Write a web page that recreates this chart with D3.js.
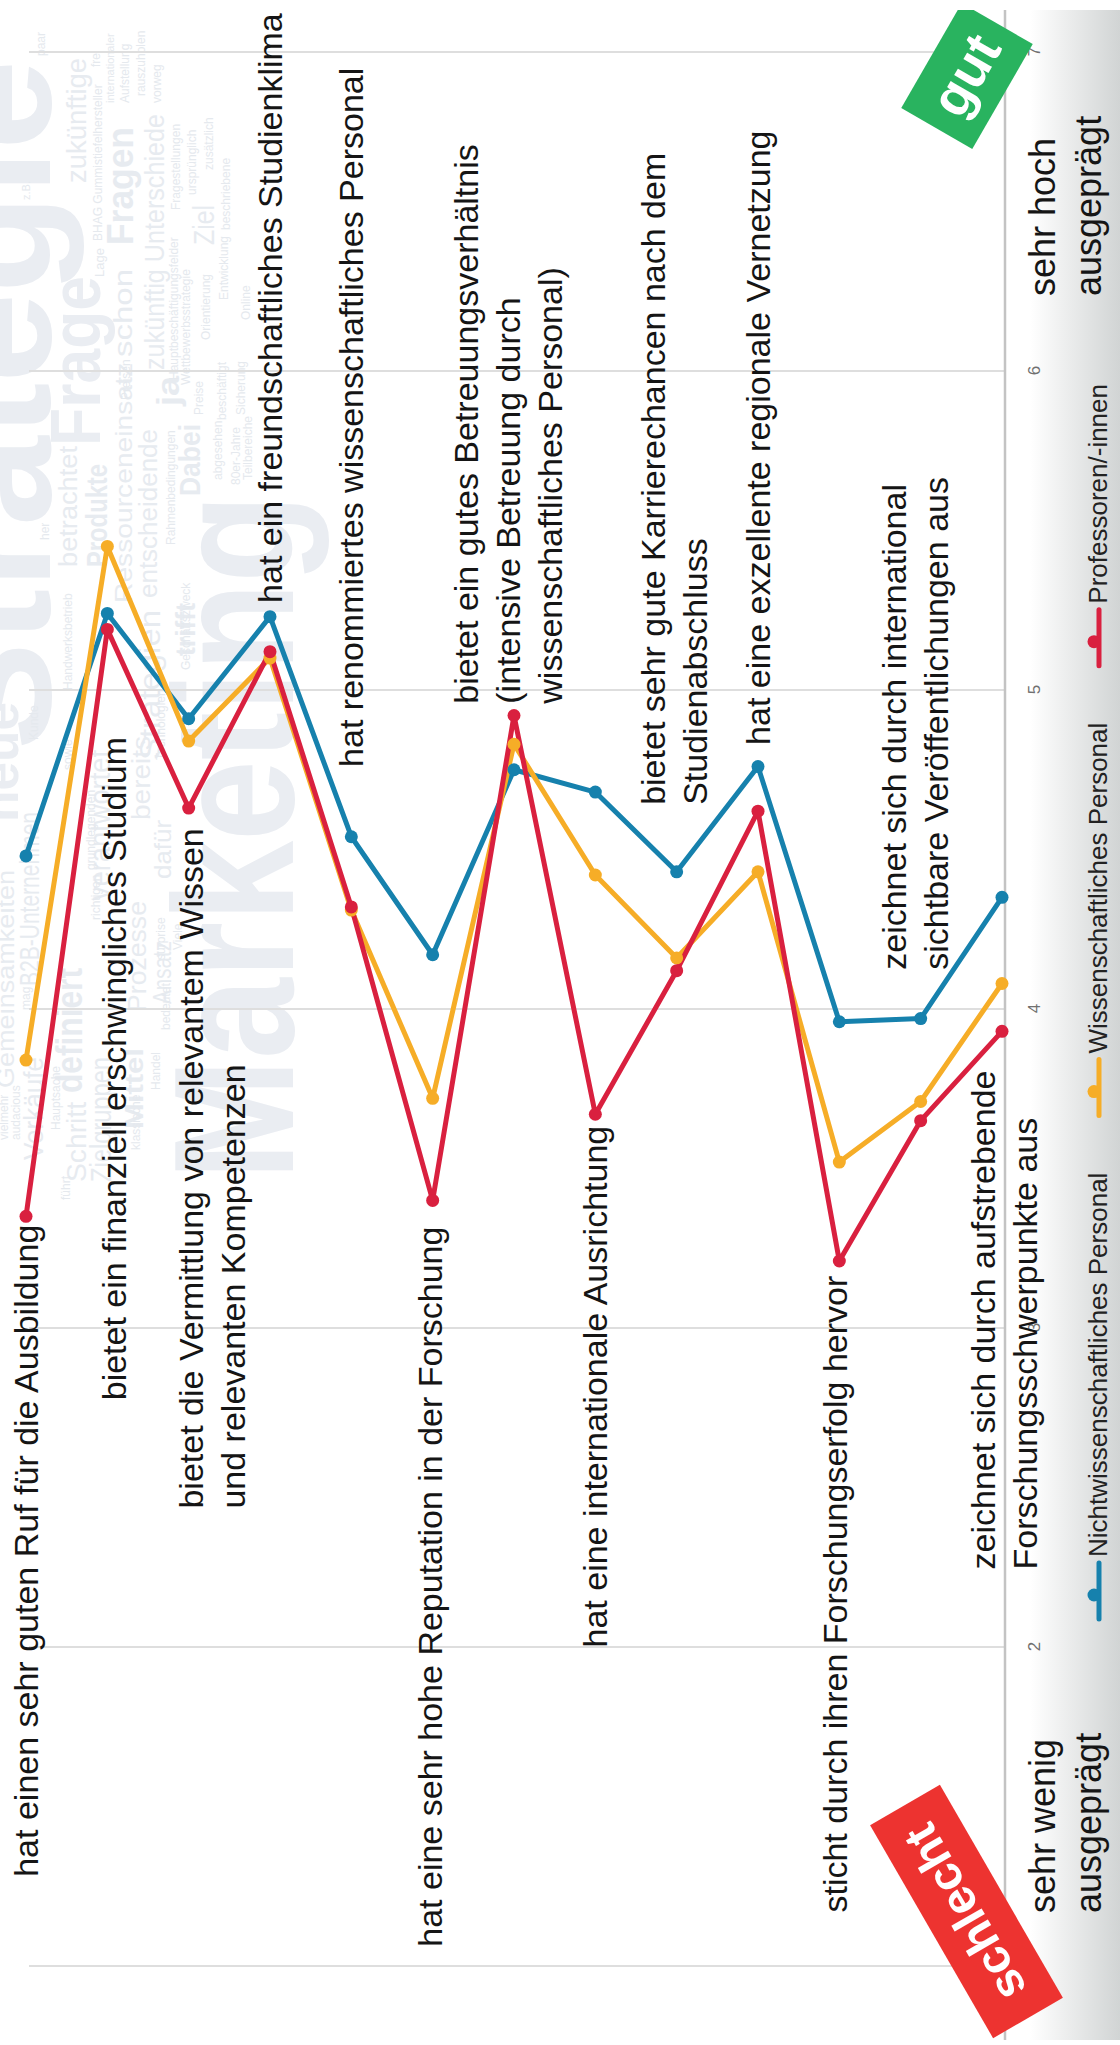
<!DOCTYPE html>
<html><head><meta charset="utf-8">
<script src="https://cdn.jsdelivr.net/npm/d3@7"></script>
<style>html,body{margin:0;padding:0;background:#fff;} svg{display:block;}</style>
</head><body>
<svg id="chart" width="1120" height="2045"></svg>
<script>
// ---------------- data ----------------
const categories = [
  "hat einen sehr guten Ruf für die Ausbildung",
  "bietet ein finanziell erschwingliches Studium",
  "bietet die Vermittlung von relevantem Wissen und relevanten Kompetenzen",
  "hat ein freundschaftliches Studienklima",
  "hat renommiertes wissenschaftliches Personal",
  "hat eine sehr hohe Reputation in der Forschung",
  "bietet ein gutes Betreuungsverhältnis (intensive Betreuung durch wissenschaftliches Personal)",
  "hat eine internationale Ausrichtung",
  "bietet sehr gute Karrierechancen nach dem Studienabschluss",
  "hat eine exzellente regionale Vernetzung",
  "sticht durch ihren Forschungserfolg hervor",
  "zeichnet sich durch international sichtbare Veröffentlichungen aus",
  "zeichnet sich durch aufstrebende Forschungsschwerpunkte aus"
];
const seriesNames = ["Nichtwissenschaftliches Personal", "Wissenschaftliches Personal", "Professoren/-innen"];
const nichtwissenschaftlich = [4.48, 5.24, 4.91, 5.23, 4.54, 4.17, 4.75, 4.68, 4.43, 4.76, 3.96, 3.97, 4.35];
const wissenschaftlich      = [3.84, 5.45, 4.84, 5.10, 4.31, 3.72, 4.83, 4.42, 4.16, 4.43, 3.52, 3.71, 4.08];
const professoren           = [3.35, 5.19, 4.63, 5.12, 4.32, 3.40, 4.92, 3.67, 4.12, 4.62, 3.21, 3.65, 3.93];
const tickValues = [1, 2, 3, 4, 5, 6, 7];
const tickLabels = ["1", "2", "3", "4", "5", "6", "7"];
const lowLabel = ["sehr wenig", "ausgeprägt"];
const highLabel = ["sehr hoch", "ausgeprägt"];
const badgeGood = "gut";
const badgeBad = "schlecht";

// label lines as printed in the chart
const labelLines = [
  ["hat einen sehr guten Ruf für die Ausbildung"],
  ["bietet ein finanziell erschwingliches Studium"],
  ["bietet die Vermittlung von relevantem Wissen", "und relevanten Kompetenzen"],
  ["hat ein freundschaftliches Studienklima"],
  ["hat renommiertes wissenschaftliches Personal"],
  ["hat eine sehr hohe Reputation in der Forschung"],
  ["bietet ein gutes Betreuungsverhältnis", "(intensive Betreuung durch", "wissenschaftliches Personal)"],
  ["hat eine internationale Ausrichtung"],
  ["bietet sehr gute Karrierechancen nach dem", "Studienabschluss"],
  ["hat eine exzellente regionale Vernetzung"],
  ["sticht durch ihren Forschungserfolg hervor"],
  ["zeichnet sich durch international", "sichtbare Veröffentlichungen aus"],
  ["zeichnet sich durch aufstrebende", "Forschungsschwerpunkte aus"]
];
// where each label sits on the value axis, and how it is anchored there
const labelAt     = [3.324, 4.853, 2.434, 5.273, 4.759, 3.318, 4.957, 3.634, 4.640, 4.828, 3.164, 4.123, 2.243];
const labelAnchor = ["end","end","start","start","start","end","start","end","start","start","end","start","start"];
const labelShift  = [0, 7, 23, 0, 0, -3, -6, 0, -3, 0, -4, -6, 2];

// faint word cloud in the background: [word, baselineX, startY, size, bold, length]
const cloudWords = [
  ["Strategie", 50, 750, 160, 1, 690], ["Marketing", 293, 1180, 170, 1, 686], ["neue", 18, 822, 52, 1, 120],
  ["Frage", 100, 446, 70, 1, 170], ["Fragen", 133, 245, 36, 1, 118], ["schon", 132, 357, 26, 0, 88],
  ["Ressourceneinsatz", 132, 603, 24, 0, 240], ["zukünftige", 86, 183, 28, 0, 125],
  ["zukünftig Unterschiede", 164, 370, 28, 0, 256], ["entscheidende", 157, 598, 26, 0, 169],
  ["betrachtet", 77, 567, 26, 0, 121], ["Produkte", 107, 567, 30, 1, 103], ["Dabei", 200, 496, 30, 1, 72],
  ["ja", 179, 406, 32, 1, 30], ["trifft", 195, 656, 28, 1, 53], ["Ziel", 214, 245, 30, 0, 40],
  ["Gemeinsamkeiten", 14, 1088, 24, 0, 218], ["B2B-Unternehmen", 39, 986, 28, 0, 174],
  ["definiert", 82, 1093, 36, 1, 125], ["Zielgruppen", 111, 1182, 30, 0, 125], ["Prozesse", 146, 1012, 26, 0, 111],
  ["Mittel", 143, 1129, 26, 1, 81], ["Ansatz", 171, 1004, 26, 0, 63], ["bereits", 150, 820, 26, 0, 84],
  ["dafür", 171, 879, 24, 0, 59], ["Schritt", 86, 1182, 28, 0, 80], ["Verkäufe", 43, 1160, 28, 0, 103],
  ["Strategien", 160, 760, 30, 0, 150], ["verantwortet", 110, 900, 30, 0, 150],
  ["paar", 45, 56, 12, 0, 0], ["frei", 100, 67, 12, 0, 0], ["internationaler", 114, 103, 11, 0, 0],
  ["Aufstellung", 129, 103, 12, 0, 0], ["rauszuholen", 145, 96, 12, 0, 0], ["vorweg", 161, 103, 12, 0, 0],
  ["BHAG Gummistiefelhersteller", 102, 241, 12, 0, 0], ["Lage", 104, 277, 13, 0, 0], ["z.B.", 30, 200, 11, 0, 0],
  ["Hauptbeschäftigungsfelder", 178, 380, 12, 0, 0], ["Wettbewerbsstrategie", 190, 385, 12, 0, 0],
  ["Orientierung", 210, 340, 12, 0, 0], ["Entwicklung", 228, 300, 12, 0, 0], ["Online", 250, 320, 12, 0, 0],
  ["Fragestellungen", 180, 210, 12, 0, 0], ["ursprünglich", 196, 195, 12, 0, 0], ["zusätzlich", 213, 170, 12, 0, 0],
  ["beschriebene", 230, 230, 12, 0, 0], ["abgesehen", 222, 480, 12, 0, 0], ["beschäftigt", 226, 420, 12, 0, 0],
  ["Sicherung", 245, 415, 12, 0, 0], ["80er-Jahre", 240, 485, 12, 0, 0], ["Teilbereiche", 252, 480, 12, 0, 0],
  ["Preise", 203, 415, 12, 0, 0], ["Preisen", 130, 400, 12, 0, 0], ["Rahmenbedingungen", 175, 545, 12, 0, 0],
  ["Geschäftszweck", 190, 670, 12, 0, 0], ["Handwerksbetrieb", 72, 690, 12, 0, 0], ["her", 49, 540, 12, 0, 0],
  ["sowie", 72, 770, 12, 0, 0], ["Kunde", 38, 740, 12, 0, 0], ["Technologien", 165, 760, 12, 0, 0],
  ["grundlegenden", 95, 870, 12, 0, 0], ["richtigen", 100, 920, 12, 0, 0], ["mag", 30, 1010, 12, 0, 0],
  ["Hauptsache", 60, 1130, 12, 0, 0], ["klassische", 140, 1150, 12, 0, 0], ["Handel", 160, 1090, 12, 0, 0],
  ["bedeutet", 170, 1030, 12, 0, 0], ["surprise", 165, 960, 12, 0, 0], ["Viele", 182, 950, 12, 0, 0],
  ["führt", 70, 1200, 12, 0, 0], ["audacious", 20, 1140, 12, 0, 0], ["vielmehr", 8, 1140, 12, 0, 0]
];

// ---------------- drawing ----------------
const W = 1120, H = 2045;
const colors = ["#1681ad", "#f6ad27", "#d9203f"];
const series = [nichtwissenschaftlich, wissenschaftlich, professoren];
const FONT = "'Liberation Sans', Arial, Helvetica, sans-serif";
const svg = d3.select("#chart");
const defs = svg.append("defs");

const grad = defs.append("linearGradient").attr("id", "panelGrad").attr("x1", 0).attr("x2", 1).attr("y1", 0).attr("y2", 0);
grad.append("stop").attr("offset", "0").attr("stop-color", "#ffffff");
grad.append("stop").attr("offset", "0.22").attr("stop-color", "#ffffff");
grad.append("stop").attr("offset", "1").attr("stop-color", "#d1d4d4");
defs.append("clipPath").attr("id", "pageClip").append("rect")
  .attr("x", 0).attr("y", 10).attr("width", W).attr("height", 2030);

// background word cloud (screen coordinates, rotated to read upward)
const cloud = svg.append("g").attr("font-family", "'Liberation Sans Narrow', 'Liberation Sans', Arial, sans-serif");
cloudWords.forEach(w => {
  const t = cloud.append("text")
    .attr("transform", `translate(${w[1]},${w[2]}) rotate(-90)`)
    .attr("font-size", w[3])
    .attr("font-weight", w[4] ? "bold" : "normal")
    .attr("fill", w[3] > 40 ? "#eaedf2" : (w[3] > 20 ? "#e7ebf0" : "#e5e9ee"))
    .text(w[0]);
  if (w[5]) t.attr("textLength", w[5]).attr("lengthAdjust", "spacingAndGlyphs");
});

// right side panel
svg.append("rect").attr("x", 1005).attr("y", 10).attr("width", W - 1005).attr("height", 2030)
  .attr("fill", "url(#panelGrad)");

// whole chart drawn in landscape frame, rotated -90deg
const g = svg.append("g").attr("transform", `translate(0,${H}) rotate(-90)`);
const xVal = d3.scaleLinear().domain([1, 7]).range([H - 1966, H - 52]);
const yCat = d3.scalePoint().domain(d3.range(categories.length)).range([26, 1002]);
const axisY = 1005;

// gridlines
g.append("g").selectAll("line").data(tickValues).join("line")
  .attr("x1", d => xVal(d)).attr("x2", d => xVal(d))
  .attr("y1", 29).attr("y2", axisY)
  .attr("stroke", "#dedede").attr("stroke-width", 2.2);

// value axis with tick labels
const axis = g.append("g").attr("transform", `translate(0,${axisY})`)
  .call(d3.axisBottom(xVal).tickValues(tickValues).tickFormat((d, i) => tickLabels[i]).tickSize(0).tickPadding(23));
axis.select(".domain").remove();
axis.selectAll("text").attr("font-family", FONT).attr("font-size", 17).attr("fill", "#707070");
g.append("line").attr("x1", 5).attr("x2", H - 10).attr("y1", axisY).attr("y2", axisY)
  .attr("stroke", "#c3c3c3").attr("stroke-width", 2.5);

// lines + points
const lineGen = d3.line().x(d => xVal(d)).y((d, i) => yCat(i));
series.forEach((s, k) => {
  g.append("path").datum(s).attr("d", lineGen)
    .attr("fill", "none").attr("stroke", colors[k]).attr("stroke-width", 5)
    .attr("stroke-linejoin", "round").attr("stroke-linecap", "round");
});
series.forEach((s, k) => {
  g.append("g").selectAll("circle").data(s).join("circle")
    .attr("cx", d => xVal(d)).attr("cy", (d, i) => yCat(i)).attr("r", 6.5)
    .attr("fill", colors[k]);
});

// category labels
const LH = 42;
const labels = g.append("g").attr("font-family", FONT).attr("font-size", 34).attr("fill", "#151515");
categories.forEach((c, i) => {
  const lines = labelLines[i];
  const n = lines.length;
  lines.forEach((ln, k) => {
    labels.append("text")
      .attr("x", xVal(labelAt[i]))
      .attr("y", yCat(i) + 12 + labelShift[i] + (k - (n - 1) / 2) * LH)
      .attr("text-anchor", labelAnchor[i])
      .text(ln);
  });
});

// end labels of value axis
const ends = g.append("g").attr("font-family", FONT).attr("font-size", 36).attr("fill", "#151515");
[[lowLabel, 132], [highLabel, 1749]].forEach(([lines, x]) => {
  lines.forEach((ln, k) => {
    ends.append("text").attr("x", x).attr("y", 1055 + k * 46).text(ln);
  });
});

// legend
const legend = g.append("g").attr("font-family", FONT).attr("font-size", 26).attr("fill", "#222");
let lx = H - 1619;
seriesNames.forEach((name, k) => {
  legend.append("line").attr("x1", lx).attr("x2", lx + 56).attr("y1", 1099).attr("y2", 1099)
    .attr("stroke", colors[k]).attr("stroke-width", 5).attr("stroke-linecap", "round");
  legend.append("circle").attr("cx", lx + 24).attr("cy", 1094).attr("r", 6.5).attr("fill", colors[k]);
  const t = legend.append("text").attr("x", lx + 62).attr("y", 1107).text(name);
  lx = lx + 62 + t.node().getComputedTextLength() + 57;
});

// badges
const badgeLayer = svg.append("g").attr("clip-path", "url(#pageClip)")
  .append("g").attr("transform", `translate(0,${H}) rotate(-90)`);
function badge(cx, cy, angle, w, h, fill, txt, size) {
  const b = badgeLayer.append("g").attr("transform", `translate(${cx},${cy}) rotate(${angle})`);
  b.append("rect").attr("x", -w / 2).attr("y", -h / 2).attr("width", w).attr("height", h).attr("fill", fill);
  b.append("text").attr("text-anchor", "middle").attr("dominant-baseline", "central")
    .attr("y", -2)
    .attr("font-family", FONT).attr("font-weight", "bold").attr("font-size", size).attr("fill", "#fff").text(txt);
}
badge(H - 76, 967, 30, 121, 82, "#29b35f", badgeGood, 54);
badge(H - 1911.5, 966.5, -30, 246, 80.6, "#ed3330", badgeBad, 48);
</script>
</body></html>
